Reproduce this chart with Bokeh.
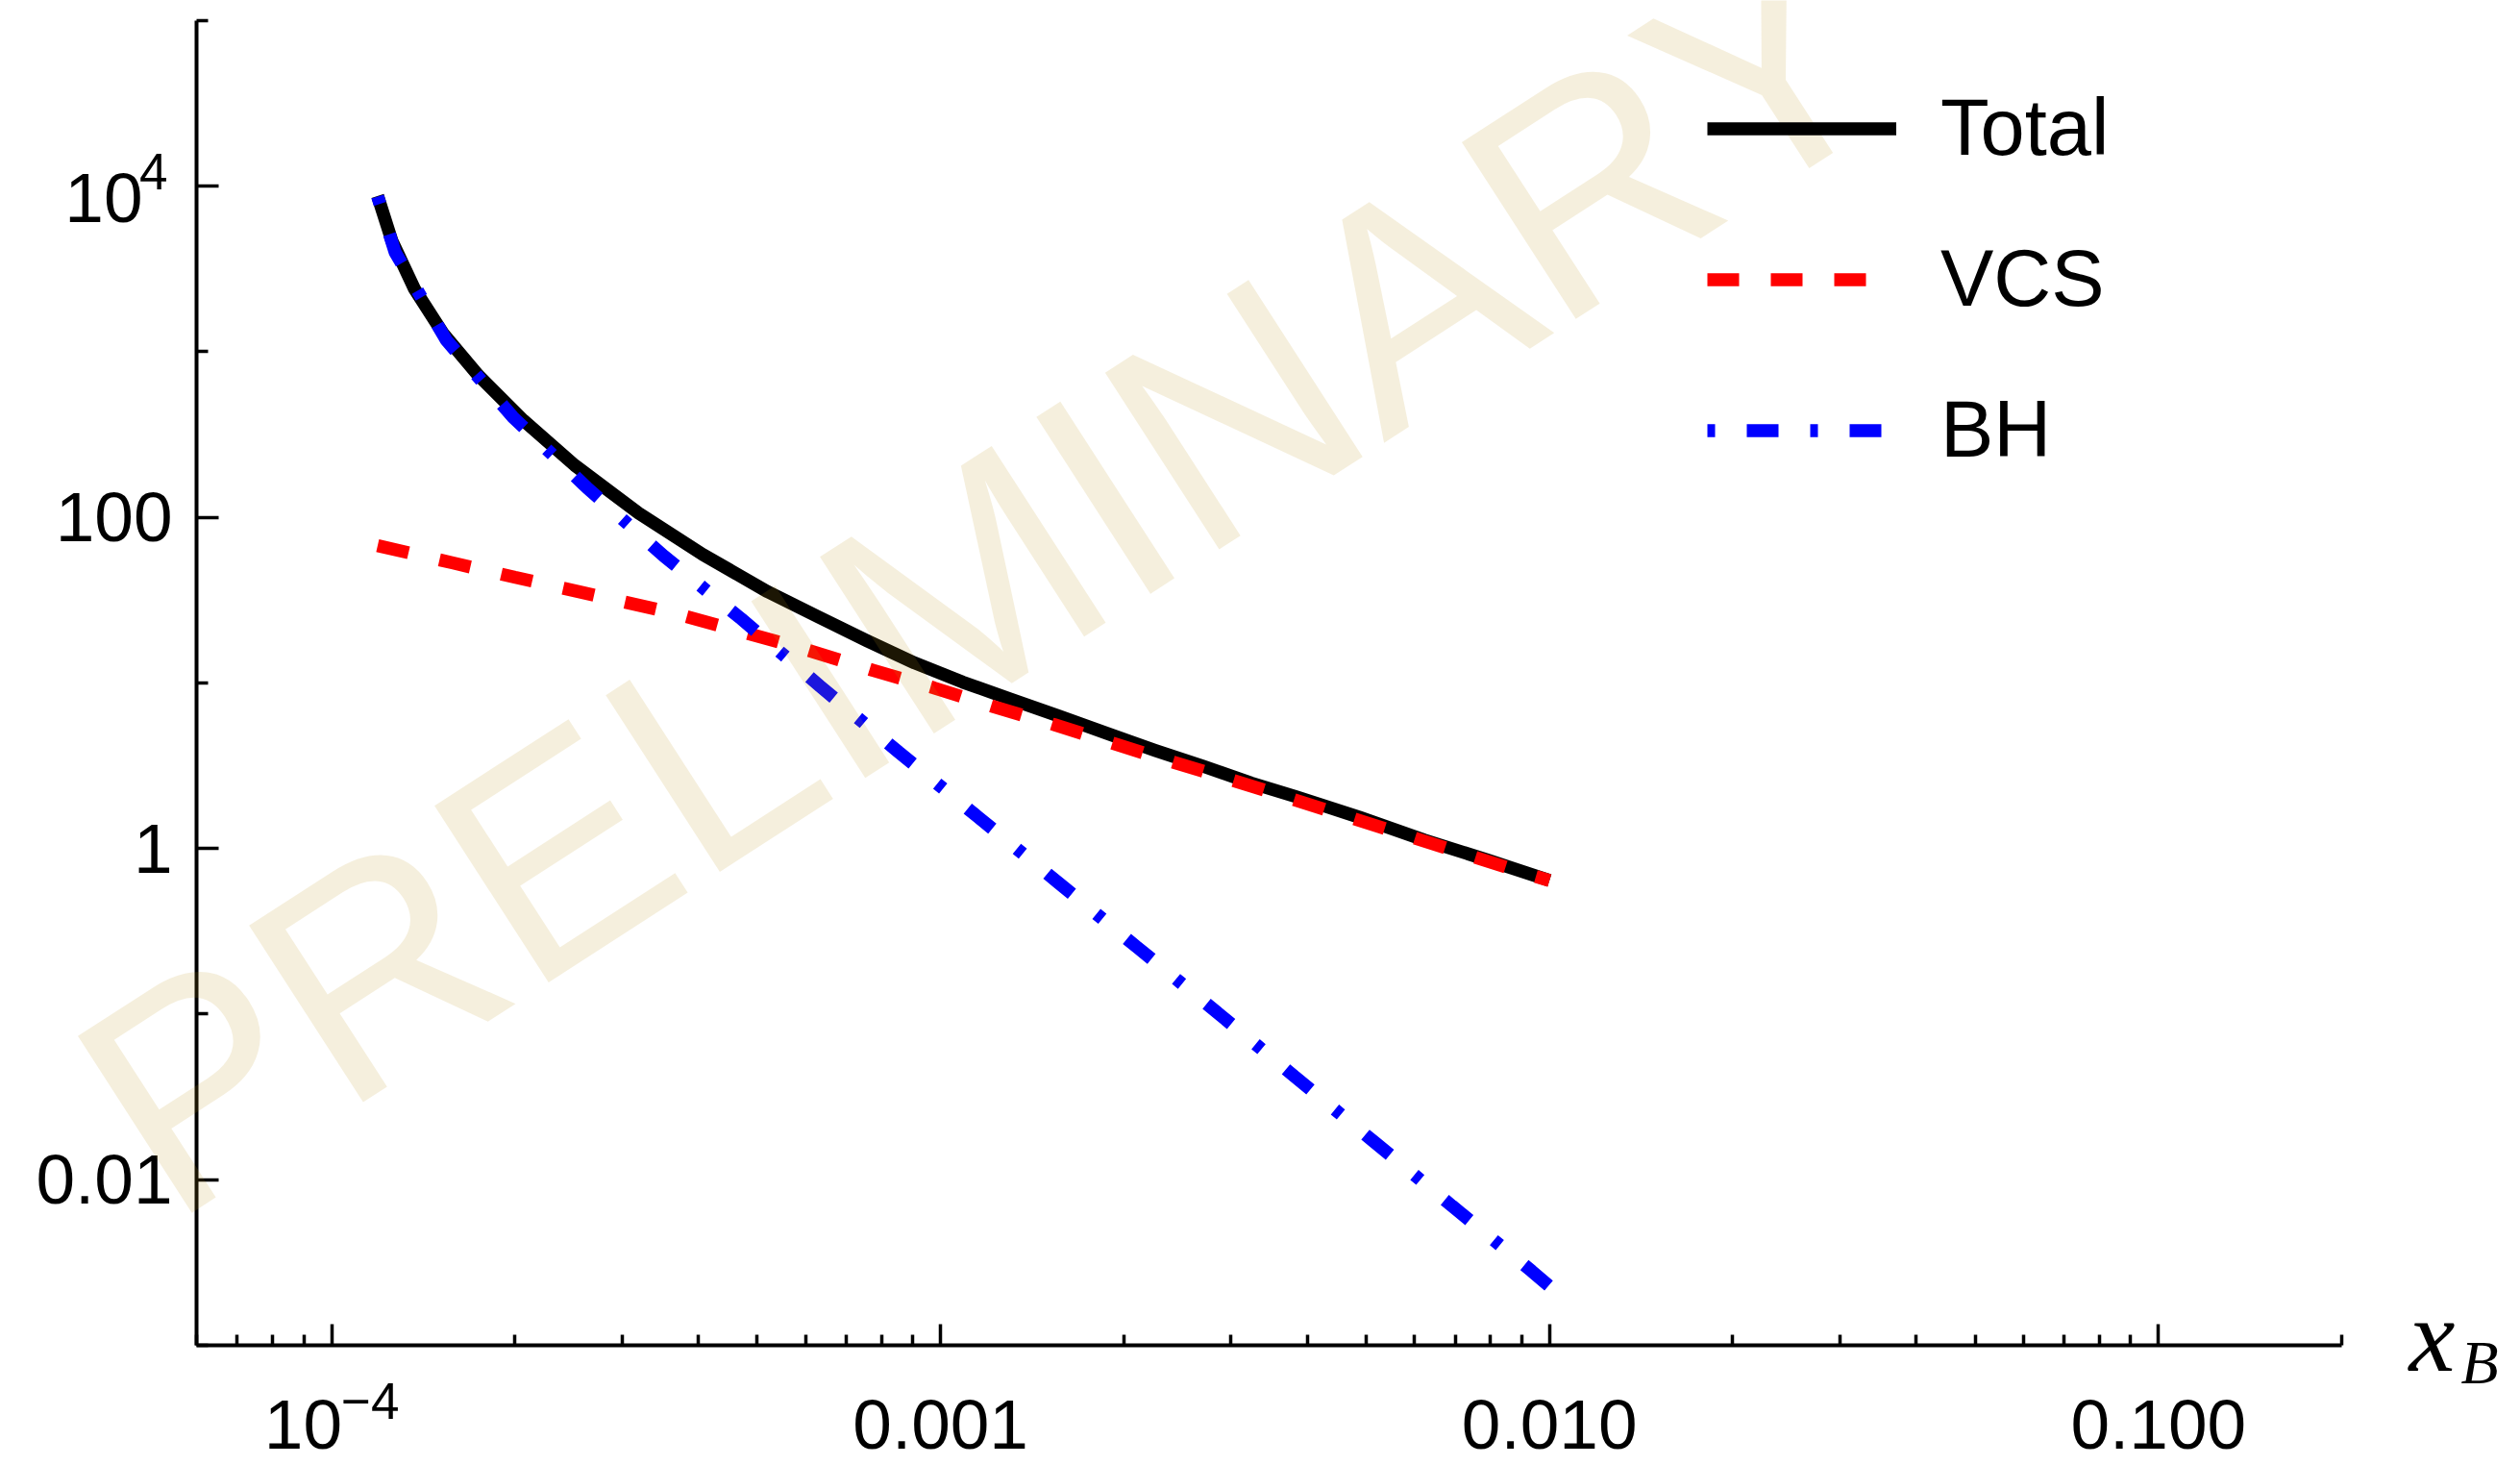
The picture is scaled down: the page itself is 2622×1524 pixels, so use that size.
import numpy as np
from bokeh.plotting import figure
from bokeh.models import (FixedTicker, Label, Legend, LegendItem, Range1d,
                          CustomJSTickFormatter)
from bokeh.embed import file_html
from bokeh.resources import INLINE

# ---------------- data ----------------
total_x = [1.19e-4, 1.256e-4, 1.368e-4, 1.525e-4, 1.742e-4, 2.064e-4, 2.507e-4,
           3.194e-4, 4.07e-4, 5.2e-4, 6.30e-4, 7.56e-4, 9.06e-4, 1.087e-3,
           1.304e-3, 1.564e-3, 1.876e-3, 2.25e-3, 2.70e-3, 3.24e-3, 3.84e-3,
           4.89e-3, 6.23e-3, 7.94e-3, 1.0e-2]
total_y = [8710, 4670, 2393, 1282, 718, 385, 206, 105.7, 59.5, 35.5, 25.0, 18.0,
           13.2, 10.1, 7.97, 6.30, 4.95, 3.91, 3.13, 2.48, 2.05, 1.534, 1.123,
           0.847, 0.64]

vcs_x = [1.19e-4, 1.58e-4, 2.0e-4, 2.54e-4, 3.70e-4, 6.0e-4, 7.74e-4, 9.75e-4,
         1.228e-3, 1.536e-3, 2.21e-3, 2.77e-3, 3.48e-3, 4.36e-3, 5.49e-3,
         7.16e-3, 9.36e-3, 1.0e-2]
vcs_y = [67.4, 53.0, 43.4, 35.6, 26.0, 15.9, 11.9, 9.32, 7.14, 5.59, 3.66, 2.84,
         2.19, 1.678, 1.284, 0.939, 0.688, 0.64]

bh_x = [1.19e-4, 1.271e-4, 1.543e-4, 1.984e-4, 2.625e-4, 3.51e-4, 4.71e-4,
        6.34e-4, 8.53e-4, 1.152e-3, 1.554e-3, 2.098e-3, 2.834e-3, 3.815e-3,
        5.14e-3, 6.92e-3, 9.35e-3, 1.0e-2]
bh_y = [8640, 3990, 1173, 403, 151, 58.4, 24.3, 9.54, 3.82, 1.548, 0.629, 0.2547,
        0.1035, 0.0419, 0.01702, 6.92e-3, 2.80e-3, 2.27e-3]

series_names = ["Total", "VCS", "BH"]

y_major = [1e-2, 1.0, 1e2, 1e4]
y_major_text = ["0.01", "1", "100", None]      # 10^4 drawn with a superscript
y_minor = [1e-3, 1e-1, 1e1, 1e3, 1e5]
x_major = [1e-4, 1e-3, 1e-2, 1e-1]
x_major_text = [None, "0.001", "0.010", "0.100"]  # 10^-4 drawn with a superscript
x_minor = [m * 10.0 ** e for e in range(-5, 0) for m in range(2, 10)
           if 6e-5 <= m * 10.0 ** e <= 0.2]

XMIN, XMAX = 6e-5, 0.2      # extent of the drawn x axis
YMIN, YMAX = 1e-3, 1e5      # extent of the drawn y axis

# ---------------- layout: the frame covers the whole canvas ----------------
W, H = 2622, 1524
AX_L, AX_R, AX_T, AX_B = 204.0, 2436.0, 20.8, 1398.8   # pixel ends of the axes
lx0, lx1 = np.log10(XMIN), np.log10(XMAX)
ly0, ly1 = np.log10(YMIN), np.log10(YMAX)
kx = (lx1 - lx0) / (AX_R - AX_L)
ky = (ly1 - ly0) / (AX_B - AX_T)
x_lo, x_hi = 10 ** (lx0 - AX_L * kx), 10 ** (lx1 + (W - AX_R) * kx)
y_lo, y_hi = 10 ** (ly0 - (H - AX_B) * ky), 10 ** (ly1 + AX_T * ky)

FONT = "Liberation Sans"

p = figure(width=W, height=H, x_axis_type="log", y_axis_type="log",
           x_range=Range1d(x_lo, x_hi), y_range=Range1d(y_lo, y_hi),
           output_backend="svg", toolbar_location=None,
           min_border_left=0, min_border_right=0,
           min_border_top=0, min_border_bottom=0)
p.outline_line_color = None
p.grid.visible = False
p.background_fill_color = "white"
p.border_fill_color = "white"

blank = CustomJSTickFormatter(code="return ''")
for ax, maj, mino, tin, tmin, loc, bnd in (
        (p.xaxis[0], x_major, x_minor, 22, 11, YMIN, (XMIN, XMAX)),
        (p.yaxis[0], y_major, y_minor, 23, 12, XMIN, (YMIN, YMAX))):
    ax.fixed_location = loc
    ax.bounds = bnd
    ax.ticker = FixedTicker(ticks=maj, minor_ticks=mino)
    ax.formatter = blank
    ax.axis_line_width = 4
    ax.axis_line_color = "black"
    ax.major_tick_line_width = 3.5
    ax.minor_tick_line_width = 3.5
    ax.major_tick_line_color = "black"
    ax.minor_tick_line_color = "black"
    ax.major_tick_in = tin
    ax.major_tick_out = 0
    ax.minor_tick_in = tmin
    ax.minor_tick_out = 0
    ax.major_label_standoff = 0

# ---------------- curves ----------------
r_tot = p.line(total_x, total_y, line_color="black", line_width=13.5,
               line_join="round")
r_vcs = p.line(vcs_x, vcs_y, line_color="red", line_width=13.5, line_dash="33 33")
r_bh = p.line(bh_x, bh_y, line_color="blue", line_width=13.5, line_dash="8 33 33 33")

legend = Legend(items=[LegendItem(label=series_names[0], renderers=[r_tot]),
                       LegendItem(label=series_names[1], renderers=[r_vcs]),
                       LegendItem(label=series_names[2], renderers=[r_bh])],
                location=(1776, 1029), orientation="vertical",
                glyph_width=197, glyph_height=95, label_height=95,
                spacing=61, padding=0, margin=0, label_standoff=46,
                label_text_font=FONT, label_text_font_size="83px",
                label_text_color="black", label_text_baseline="middle",
                border_line_alpha=0, background_fill_alpha=0)
p.add_layout(legend)

# ---------------- tick labels ----------------
TICK_FS = "73px"
SUP_FS = "53px"
XLAB_DY = -83
for v, t in zip(y_major, y_major_text):
    if t is not None:
        p.add_layout(Label(x=XMIN, y=v, text=t, x_offset=-25, y_offset=0,
                           text_align="right", text_baseline="middle",
                           text_font=FONT, text_font_size=TICK_FS, text_color="black"))
    else:
        p.add_layout(Label(x=XMIN, y=v, text="10", x_offset=-56, y_offset=-12,
                           text_align="right", text_baseline="middle",
                           text_font=FONT, text_font_size=TICK_FS, text_color="black"))
        p.add_layout(Label(x=XMIN, y=v, text="4", x_offset=-30, y_offset=15,
                           text_align="right", text_baseline="middle",
                           text_font=FONT, text_font_size=SUP_FS, text_color="black"))

for v, t in zip(x_major, x_major_text):
    if t is not None:
        p.add_layout(Label(x=v, y=YMIN, text=t, x_offset=0, y_offset=XLAB_DY,
                           text_align="center", text_baseline="middle",
                           text_font=FONT, text_font_size=TICK_FS, text_color="black"))
    else:
        p.add_layout(Label(x=v, y=YMIN, text="10", x_offset=11, y_offset=XLAB_DY,
                           text_align="right", text_baseline="middle",
                           text_font=FONT, text_font_size=TICK_FS, text_color="black"))
        p.add_layout(Label(x=v, y=YMIN, text="\u22124", x_offset=10,
                           y_offset=XLAB_DY + 25,
                           text_align="left", text_baseline="middle",
                           text_font=FONT, text_font_size=SUP_FS, text_color="black"))

# axis label x_B at the end of the x axis
p.add_layout(Label(x=XMAX, y=YMIN, text="x", x_offset=70, y_offset=10,
                   text_align="left", text_baseline="middle",
                   text_font="Liberation Serif", text_font_style="italic",
                   text_font_size="108px", text_color="black"))
p.add_layout(Label(x=XMAX, y=YMIN, text="B", x_offset=124, y_offset=-18,
                   text_align="left", text_baseline="middle",
                   text_font="Liberation Serif", text_font_style="italic",
                   text_font_size="64px", text_color="black"))

# ---------------- watermark ----------------
p.add_layout(Label(x=4.3785e-5, y=0.01803, text="PRELIMINARY",
                   angle=np.deg2rad(32.85), text_align="left",
                   text_baseline="middle", text_font=FONT,
                   text_font_size="318px", text_color=(190, 148, 30),
                   text_alpha=0.15))

open("out.html", "w").write(file_html(p, INLINE))
